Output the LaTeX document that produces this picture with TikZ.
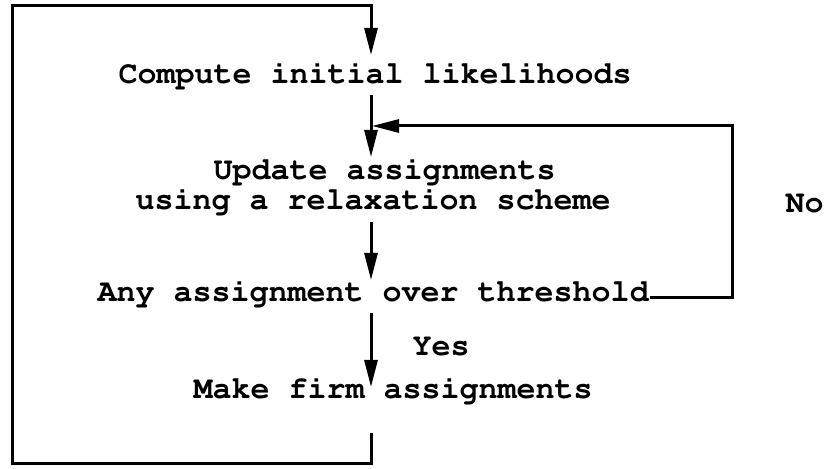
\documentclass[tikz,border=0pt]{standalone}
\usepackage[T1]{fontenc}
\usepackage{courier}
\usetikzlibrary{arrows.meta, positioning, calc}

\begin{document}
\begin{tikzpicture}[x=1bp, y=-1bp, >={Triangle[length=27bp, width=13bp]},
    line width=3bp,
    steptext/.style={anchor=base west, inner sep=0pt,
        font=\ttfamily\bfseries\fontsize{31.8}{36}\selectfont}]
    \useasboundingbox (0,0) rectangle (827,469);

    % steps of the scheme
    \node[steptext] (compute) at (117,84) {Compute initial likelihoods};
    \node[steptext] (update) at (212,180) {Update assignments};
    \node[steptext] (relax) at (134,210) {using a relaxation scheme};
    \node[steptext] (thresh) at (96,302) {Any assignment over threshold};
    \node[steptext] (yes) at (411,356) {Yes};
    \node[steptext] (firm) at (192,398) {Make firm assignments};
    \node[steptext] (no) at (784,213) {No};

    % points on the trunk
    \coordinate (topleft) at (12,6);
    \coordinate (botleft) at (12,463);
    \coordinate (inA) at (371,55);
    \coordinate (outA) at (371,95);
    \coordinate (inB) at (371,157);
    \coordinate (join) at (372,126);
    \coordinate (outB) at (371,222);
    \coordinate (inC) at (371,280);
    \coordinate (outC) at (371,313);
    \coordinate (inD) at (371,387);
    \coordinate (outD) at (371,433);
    \coordinate (loopx) at (732,126);

    \draw[->] (outA) -- (inB);
    \draw[->] (outB) -- (inC);
    \draw[->] (outC) -- (inD);
    \draw[->] ([yshift=-4bp]thresh.east) -| (loopx) -- (join);
    \draw[->] (outD) |- (botleft) -- (topleft) -| (inA);
\end{tikzpicture}
\end{document}
